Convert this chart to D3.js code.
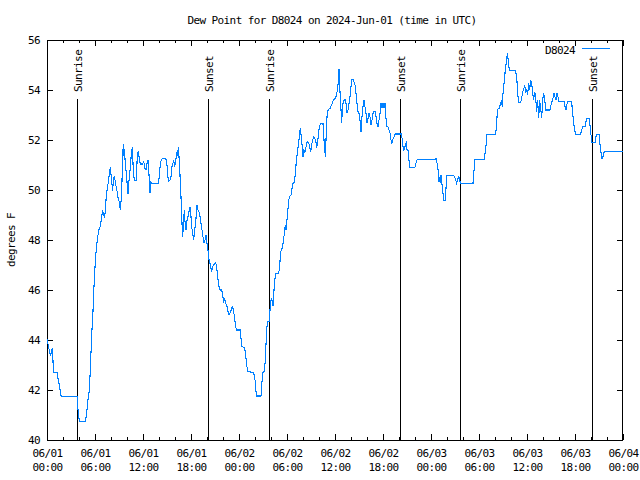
<!DOCTYPE html>
<html><head><meta charset="utf-8">
<script src="https://cdn.jsdelivr.net/npm/d3@7"></script>
<style>
body{margin:0;background:#fff;}
text{font-family:"DejaVu Sans Mono",monospace;font-size:11px;letter-spacing:-0.6px;fill:#000;}
</style></head>
<body><svg id="c" width="640" height="480"></svg>
<script>
const titleText = "Dew Point for D8024 on 2024-Jun-01 (time in UTC)";
const yLabel = "degrees F";
const seriesName = "D8024";
const startUTC = Date.UTC(2024, 5, 1);
const yTicks = [40, 42, 44, 46, 48, 50, 52, 54, 56];
// hours since 2024-06-01 00:00 UTC
const hours = [
0,0.29,0.46,0.67,0.75,0.79,1.29,1.33,1.46,1.58,1.67,1.79,3.79,3.8,3.96,4.04,4.83,4.88,5.0,5.08,5.21,5.33,5.46,5.58,5.75,5.875,6.0,6.08,6.21,6.33,6.46,6.67,6.79,6.92,7.08,7.17,7.29,7.375,7.5,7.625,7.71,7.83,7.92,8.0,8.08,8.21,8.29,8.42,8.58,8.75,8.875,9.0,9.17,9.29,9.375,9.46,9.54,9.625,9.67,9.79,9.92,10.125,10.25,10.42,10.54,10.67,10.79,10.92,11.17,11.29,11.42,11.54,11.67,11.96,
12.04,12.17,12.25,12.375,12.5,12.625,12.71,12.79,12.875,12.92,13.08,13.92,14.04,14.17,14.33,14.5,14.83,14.96,15.08,15.17,15.375,15.5,15.625,15.75,15.83,15.96,16.08,16.21,16.33,16.42,16.5,16.625,16.75,16.875,16.96,17.08,17.17,17.29,17.375,17.5,17.625,17.75,17.875,18.0,18.08,18.21,18.33,18.46,18.58,18.67,18.75,18.875,19.0,19.125,19.25,19.375,19.5,19.625,19.75,19.875,20.0,20.125,20.21,20.33,20.46,20.58,20.71,20.83,20.96,21.08,21.21,21.33,21.46,21.58,21.71,21.83,21.96,22.08,22.21,22.33,22.46,22.58,22.71,22.83,22.96,23.08,23.21,23.33,23.46,23.58,23.71,23.96,
24.17,24.25,24.375,24.67,24.79,24.92,25.08,25.83,26.04,26.17,26.75,26.875,27.0,27.17,27.29,27.42,27.54,27.75,27.83,27.92,28.04,28.17,28.25,28.33,28.46,28.58,28.96,29.08,29.17,29.29,29.42,29.54,29.67,29.79,29.875,29.96,30.08,30.21,30.33,30.5,30.625,30.75,30.875,31.0,31.125,31.25,31.375,31.5,31.58,31.71,31.79,31.92,32.0,32.08,32.21,32.33,32.46,32.58,32.71,32.83,32.96,33.08,33.21,33.33,33.46,33.58,33.71,33.83,33.96,34.08,34.21,34.5,34.625,34.71,34.79,34.875,34.96,35.04,35.17,35.29,35.42,35.54,35.67,35.79,35.96,
36.08,36.21,36.33,36.42,36.5,36.58,36.67,36.75,36.83,36.92,37.0,37.125,37.25,37.375,37.5,37.625,37.75,37.875,38.0,38.08,38.25,38.375,38.5,38.625,38.75,38.875,39.0,39.125,39.25,39.375,39.5,39.625,39.75,39.875,40.0,40.125,40.25,40.375,40.5,40.625,40.75,40.875,41.0,41.125,41.25,41.375,41.5,41.625,41.75,41.875,42.0,42.125,42.25,42.375,42.5,42.625,42.75,42.875,43.0,43.125,43.25,43.375,43.5,43.625,44.29,44.42,44.54,44.67,44.79,44.92,45.0,45.125,45.25,45.375,46.0,46.125,46.25,46.375,47.96,
48.67,48.79,48.92,49.0,49.08,49.17,49.25,49.33,49.42,49.5,49.58,49.75,49.83,49.92,50.0,50.83,50.96,51.08,51.21,51.33,51.46,51.58,51.67,53.25,53.33,53.42,53.5,54.67,54.75,54.92,55.0,56.08,56.17,56.25,56.33,56.58,56.67,56.79,56.92,57.0,57.125,57.25,57.33,57.46,57.54,57.625,57.71,57.79,58.54,58.67,58.75,58.875,59.0,59.21,59.33,59.46,59.58,59.71,59.83,59.96,60.08,60.21,60.33,60.46,60.58,60.71,60.83,60.96,61.08,61.21,61.33,61.46,61.58,61.71,61.83,61.96,62.08,62.21,62.33,62.875,63.0,63.125,63.25,63.375,63.5,63.625,63.75,63.875,64.0,64.625,64.75,64.875,64.96,65.08,65.58,65.67,65.79,65.92,66.08,66.71,66.83,66.96,67.25,67.375,67.5,67.75,67.875,68.0,68.125,68.5,68.58,68.67,69.0,69.08,69.21,69.33,69.46,69.58,69.71,72.0
];
const dewF = [
44.04,43.57,43.37,43.68,43.17,42.69,42.69,42.53,42.35,42.11,41.91,41.73,41.73,41.47,40.97,40.73,40.73,40.91,41.2,41.55,41.73,42.21,43.17,44.17,45.17,46.16,46.91,47.37,47.77,48.11,48.37,48.57,48.8,49.15,49.04,48.88,49.15,49.6,49.97,50.24,50.44,50.77,50.91,50.64,50.37,49.97,50.37,50.57,50.24,49.97,49.71,49.57,49.2,49.71,50.37,51.31,51.84,51.37,51.64,51.04,50.64,49.84,50.37,50.91,51.44,51.71,50.77,50.37,50.37,51.44,51.57,51.24,51.04,51.04,
51.13,51.07,50.87,50.8,51.07,51.2,50.87,50.33,49.87,50.33,50.27,50.27,50.53,51.07,51.23,51.27,51.27,51.13,50.67,50.33,50.4,50.53,50.93,51.07,51.2,50.93,51.13,51.47,51.4,51.73,51.33,50.6,49.73,48.67,48.13,48.8,49.2,48.53,48.4,48.8,48.93,49.13,49.33,48.93,48.53,48.27,48.0,48.4,48.67,49.07,49.4,49.2,49.13,48.93,48.67,48.4,48.13,47.87,48.0,48.2,47.87,47.6,47.27,47.13,46.93,46.73,46.93,47.0,47.07,47.09,46.93,46.53,46.2,46.03,46.0,46.03,45.8,45.53,45.63,45.47,45.4,45.2,45.04,45.04,45.13,45.27,45.33,45.13,44.87,44.53,44.4,44.4,
44.4,44.07,43.73,43.71,43.53,43.13,42.73,42.71,42.33,41.76,41.76,42.33,42.71,42.73,43.2,44.13,44.73,44.73,45.0,45.4,45.67,45.53,45.36,45.8,46.33,46.67,46.67,46.93,47.4,47.63,47.67,47.93,48.27,48.6,48.4,48.67,49.07,49.6,49.73,49.8,50.07,50.27,50.29,50.53,51.0,51.4,51.71,52.0,52.33,52.47,52.0,51.71,51.33,51.63,51.47,51.63,51.87,51.93,51.89,51.73,51.53,51.8,52.0,52.11,52.07,52.0,51.67,51.93,52.33,52.56,52.67,52.67,52.0,51.71,51.31,52.0,52.67,53.13,53.2,53.27,53.27,53.4,53.47,53.6,53.64,
53.67,53.87,54.0,54.4,54.83,54.27,53.6,53.2,52.67,53.2,53.47,53.57,53.63,53.47,53.07,53.2,53.47,53.73,54.13,54.43,54.43,54.33,54.2,53.87,53.47,53.13,53.07,52.8,52.33,52.93,53.33,53.6,53.33,53.07,52.67,52.87,53.07,52.93,52.6,52.8,53.07,53.13,53.13,52.93,52.67,52.53,52.8,53.07,53.47,53.27,53.47,53.27,53.47,52.87,52.53,52.53,52.4,52.29,52.0,51.87,52.03,52.11,52.24,52.24,52.24,52.0,51.6,51.63,51.8,51.89,51.63,51.6,51.17,50.91,50.91,51.07,51.2,51.23,51.23,
51.24,51.0,50.73,50.33,50.53,50.27,50.6,50.33,50.13,49.87,49.57,49.57,49.87,50.27,50.59,50.59,50.51,50.4,50.27,50.4,50.56,50.4,50.27,50.27,50.6,50.93,51.23,51.23,51.47,51.87,52.23,52.23,52.53,52.93,53.23,53.27,53.47,53.53,53.33,53.87,54.27,54.67,54.93,55.2,55.47,55.27,55.07,54.77,54.77,54.6,54.33,53.73,53.49,53.49,53.67,53.93,54.0,54.2,53.87,54.03,53.8,54.27,54.0,54.4,54.27,53.87,53.6,53.93,53.73,53.13,53.6,52.87,53.6,53.27,52.87,53.6,53.87,53.67,53.2,53.2,53.4,53.53,53.67,53.87,53.73,53.6,53.87,53.73,53.53,53.53,53.33,53.2,53.4,53.53,53.53,53.2,52.8,52.47,52.23,52.23,52.4,52.53,52.53,52.73,52.85,52.85,52.6,52.2,51.89,51.89,52.07,52.21,52.21,51.93,51.6,51.27,51.27,51.47,51.53,51.53
];
const eventHours = [3.8, 20.17, 27.75, 44.17, 51.67, 68.17];
const eventNames = ["Sunrise", "Sunset", "Sunrise", "Sunset", "Sunrise", "Sunset"];

const toDate = h => new Date(startUTC + h * 3600e3);
const data = hours.map((h, i) => ({t: toDate(h), v: dewF[i]}));

const L = 47, R = 623, T = 40, B = 440;
const svg = d3.select("#c");
const x = d3.scaleUtc().domain([toDate(0), toDate(72)]).range([L, R]);
const y = d3.scaleLinear().domain([40, 56]).range([B, T]);

svg.append("rect").attr("width", 640).attr("height", 480).attr("fill", "#fff");

// event lines
const ev = svg.append("g");
eventHours.forEach((h, i) => {
  const xx = Math.round(x(toDate(h))) + 0.5;
  ev.append("line").attr("x1", xx).attr("x2", xx).attr("y1", 99).attr("y2", B)
    .attr("stroke", "#000").attr("stroke-width", 1);
  ev.append("text").attr("transform", `translate(${xx + 4},92) rotate(-90)`)
    .attr("text-anchor", "start").text(eventNames[i]);
});

// axes
const fmtD = d3.utcFormat("%m/%d"), fmtT = d3.utcFormat("%H:%M");
const xMajor = d3.utcHour.every(6).range(toDate(0), toDate(72.01));
const xMinor = d3.utcHour.every(2).range(toDate(0), toDate(72.01));
function styleAxis(g) {
  g.select(".domain").remove();
  g.selectAll(".tick line").attr("stroke", "#000").attr("shape-rendering", "crispEdges");
}
const gb = svg.append("g").attr("transform", `translate(0,${B})`)
  .call(d3.axisBottom(x).tickValues(xMajor).tickSize(-6).tickPadding(10).tickFormat(""));
styleAxis(gb);
gb.selectAll(".tick").each(function(d) {
  const t = d3.select(this).append("text").attr("fill", "#000").attr("text-anchor", "middle").attr("font-family", null).attr("font-size", null);
  t.append("tspan").attr("x", 0).attr("y", 17).text(fmtD(d));
  t.append("tspan").attr("x", 0).attr("y", 31).text(fmtT(d));
});
styleAxis(svg.append("g").attr("transform", `translate(0,${B})`)
  .call(d3.axisBottom(x).tickValues(xMinor).tickSize(-3).tickFormat("")));
styleAxis(svg.append("g").attr("transform", `translate(0,${T})`)
  .call(d3.axisTop(x).tickValues(xMajor).tickSize(-6).tickFormat("")));
styleAxis(svg.append("g").attr("transform", `translate(0,${T})`)
  .call(d3.axisTop(x).tickValues(xMinor).tickSize(-3).tickFormat("")));
const gl = svg.append("g").attr("transform", `translate(${L},0)`)
  .call(d3.axisLeft(y).tickValues(yTicks).tickSize(-6).tickPadding(7).tickFormat(d3.format("d")));
styleAxis(gl);
gl.selectAll("text").attr("font-family", null).attr("font-size", null).attr("fill", "#000");
styleAxis(svg.append("g").attr("transform", `translate(${R},0)`)
  .call(d3.axisRight(y).tickValues(yTicks).tickSize(-6).tickFormat("")));

// border
svg.append("rect").attr("x", L + 0.5).attr("y", T + 0.5).attr("width", R - L - 1).attr("height", B - T)
  .attr("fill", "none").attr("stroke", "#000").attr("shape-rendering", "crispEdges");

// series
svg.append("path").datum(data)
  .attr("d", d3.line().x(d => x(d.t)).y(d => y(d.v)))
  .attr("fill", "none").attr("stroke", "#0080ff").attr("stroke-width", 1.1)
  .attr("shape-rendering", "crispEdges");

// legend
svg.append("text").attr("x", 575).attr("y", 54).attr("text-anchor", "end").text(seriesName);
svg.append("line").attr("x1", 582).attr("x2", 610).attr("y1", 48.5).attr("y2", 48.5)
  .attr("stroke", "#0080ff").attr("stroke-width", 1).attr("shape-rendering", "crispEdges");

// title & y label
svg.append("text").attr("x", 332).attr("y", 24).attr("text-anchor", "middle").text(titleText);
svg.append("text").attr("transform", "translate(15,240) rotate(-90)").attr("text-anchor", "middle").text(yLabel);
</script></body></html>
